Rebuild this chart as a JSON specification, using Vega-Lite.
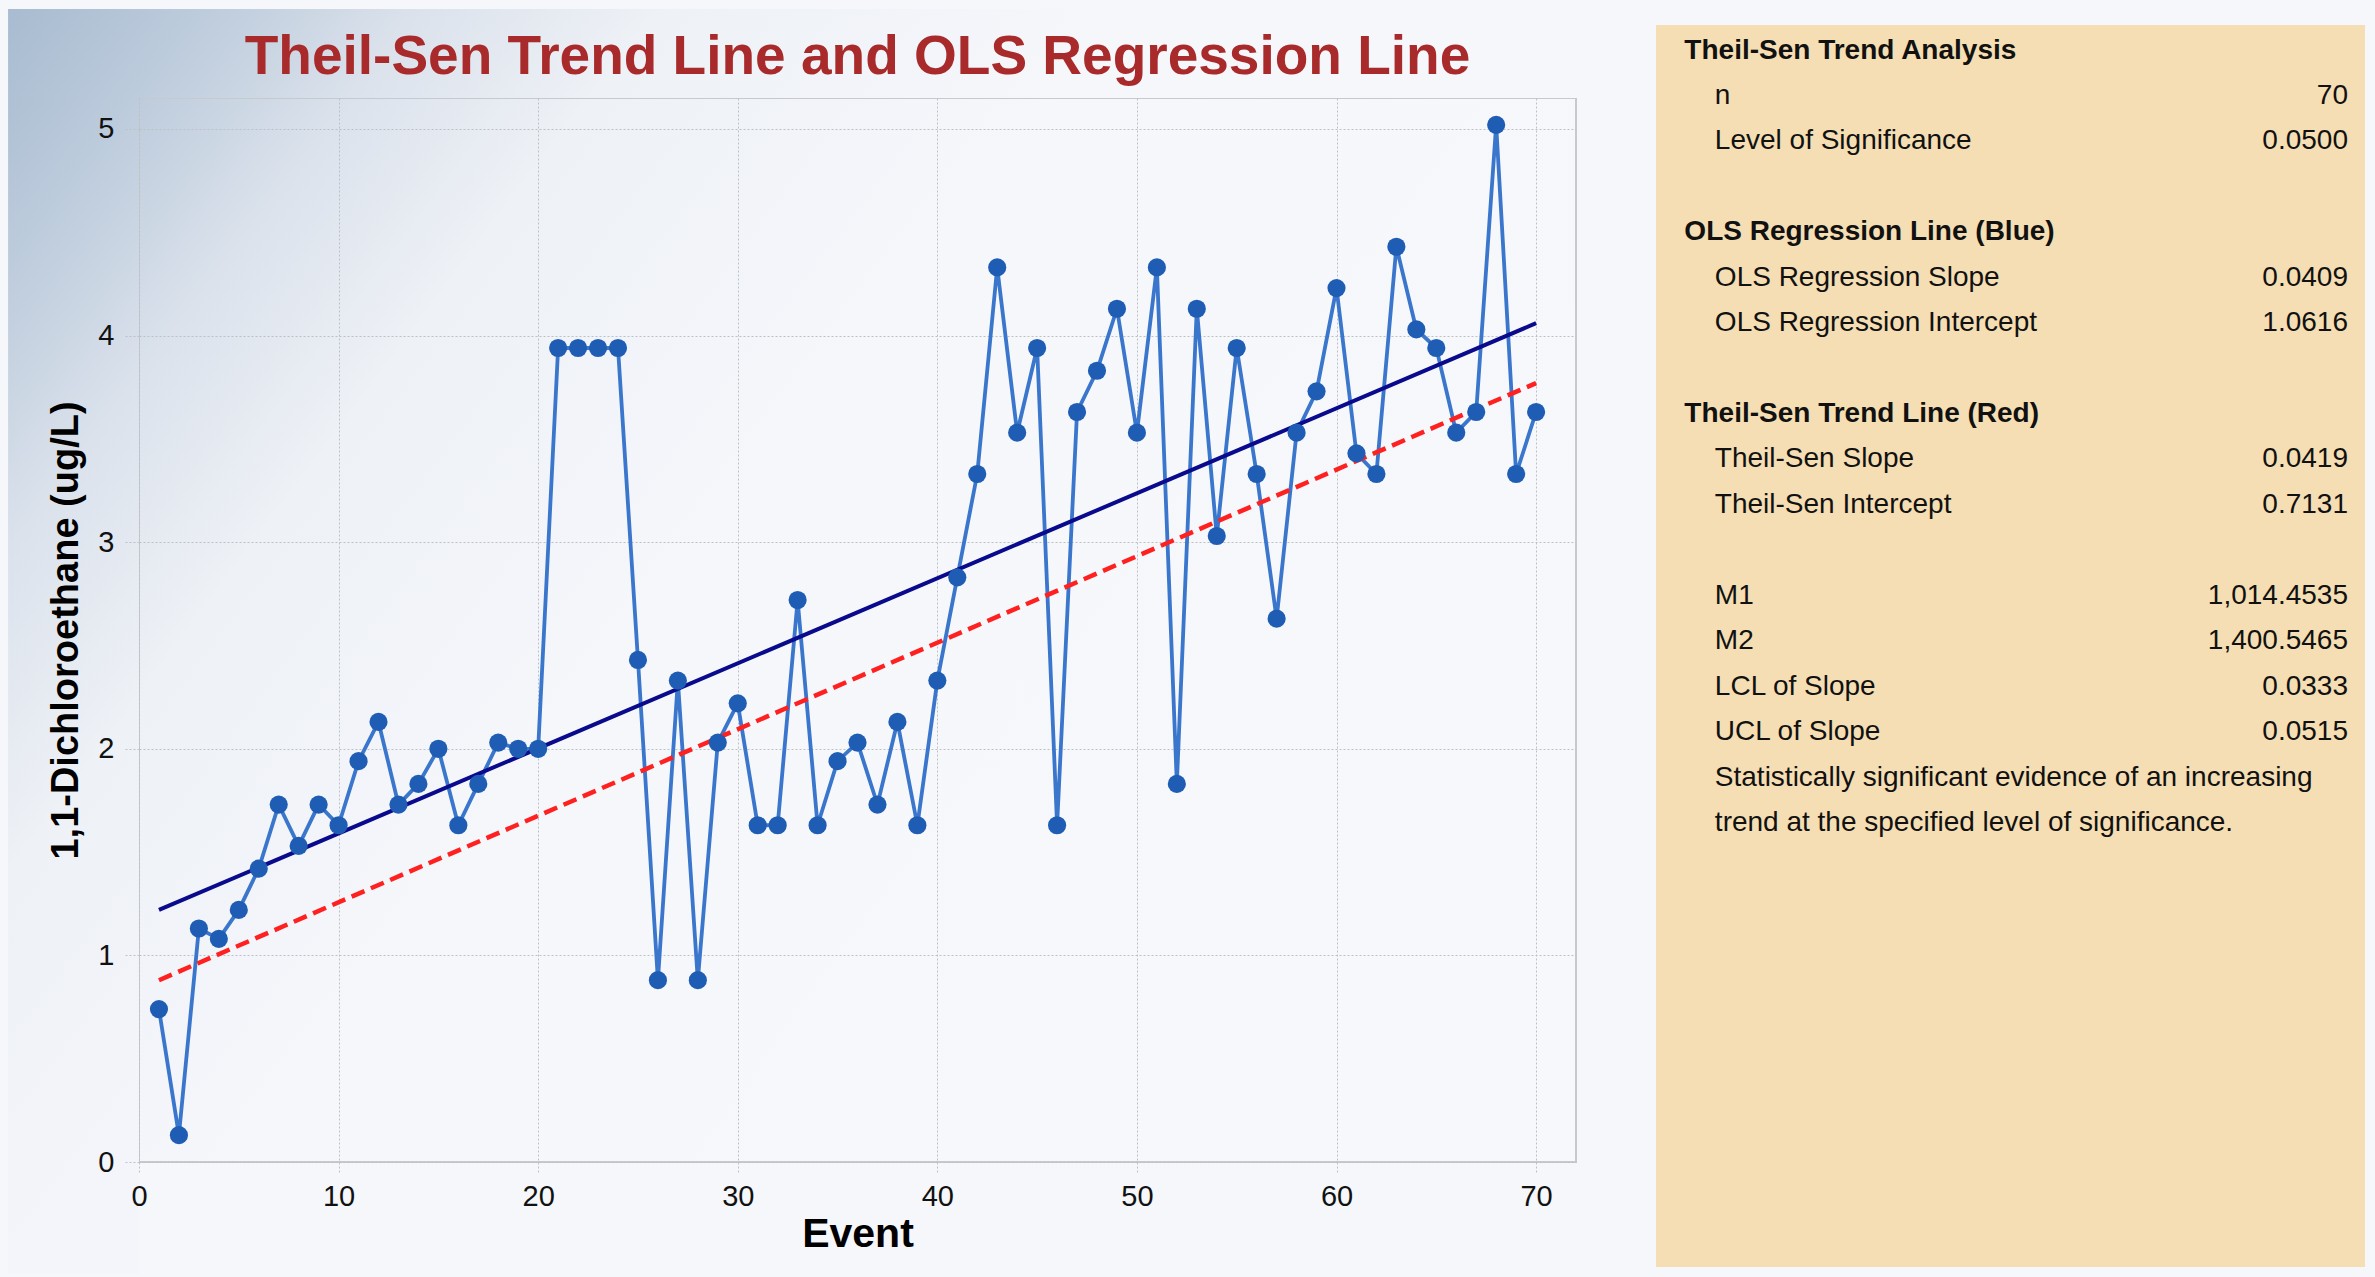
{
  "$schema": "https://vega.github.io/schema/vega-lite/v6.json",
  "background": "#F5F7FB",
  "padding": {"left": 7, "top": 7, "right": 13, "bottom": 5},
  "autosize": {"type": "pad"},
  "spacing": 3,
  "config": {"font": "Liberation Sans", "view": {"stroke": null}},
  "datasets": {
    "obs": [
      {"event": 1, "value": 0.74}, {"event": 2, "value": 0.13}, {"event": 3, "value": 1.13}, {"event": 4, "value": 1.08}, {"event": 5, "value": 1.22},
      {"event": 6, "value": 1.42}, {"event": 7, "value": 1.73}, {"event": 8, "value": 1.53}, {"event": 9, "value": 1.73}, {"event": 10, "value": 1.63},
      {"event": 11, "value": 1.94}, {"event": 12, "value": 2.13}, {"event": 13, "value": 1.73}, {"event": 14, "value": 1.83}, {"event": 15, "value": 2.0},
      {"event": 16, "value": 1.63}, {"event": 17, "value": 1.83}, {"event": 18, "value": 2.03}, {"event": 19, "value": 2.0}, {"event": 20, "value": 2.0},
      {"event": 21, "value": 3.94}, {"event": 22, "value": 3.94}, {"event": 23, "value": 3.94}, {"event": 24, "value": 3.94}, {"event": 25, "value": 2.43},
      {"event": 26, "value": 0.88}, {"event": 27, "value": 2.33}, {"event": 28, "value": 0.88}, {"event": 29, "value": 2.03}, {"event": 30, "value": 2.22},
      {"event": 31, "value": 1.63}, {"event": 32, "value": 1.63}, {"event": 33, "value": 2.72}, {"event": 34, "value": 1.63}, {"event": 35, "value": 1.94},
      {"event": 36, "value": 2.03}, {"event": 37, "value": 1.73}, {"event": 38, "value": 2.13}, {"event": 39, "value": 1.63}, {"event": 40, "value": 2.33},
      {"event": 41, "value": 2.83}, {"event": 42, "value": 3.33}, {"event": 43, "value": 4.33}, {"event": 44, "value": 3.53}, {"event": 45, "value": 3.94},
      {"event": 46, "value": 1.63}, {"event": 47, "value": 3.63}, {"event": 48, "value": 3.83}, {"event": 49, "value": 4.13}, {"event": 50, "value": 3.53},
      {"event": 51, "value": 4.33}, {"event": 52, "value": 1.83}, {"event": 53, "value": 4.13}, {"event": 54, "value": 3.03}, {"event": 55, "value": 3.94},
      {"event": 56, "value": 3.33}, {"event": 57, "value": 2.63}, {"event": 58, "value": 3.53}, {"event": 59, "value": 3.73}, {"event": 60, "value": 4.23},
      {"event": 61, "value": 3.43}, {"event": 62, "value": 3.33}, {"event": 63, "value": 4.43}, {"event": 64, "value": 4.03}, {"event": 65, "value": 3.94},
      {"event": 66, "value": 3.53}, {"event": 67, "value": 3.63}, {"event": 68, "value": 5.02}, {"event": 69, "value": 3.33}, {"event": 70, "value": 3.63}
    ],
    "trend": [
      {"line": "OLS", "event": 1, "value": 1.22}, {"line": "OLS", "event": 70, "value": 4.06},
      {"line": "Theil-Sen", "event": 1, "value": 0.88}, {"line": "Theil-Sen", "event": 70, "value": 3.77}
    ],
    "stats": [
      {"row": 1, "kind": "heading", "label": "Theil-Sen Trend Analysis", "value": ""},
      {"row": 2, "kind": "item", "label": "n", "value": "70"},
      {"row": 3, "kind": "item", "label": "Level of Significance", "value": "0.0500"},
      {"row": 5, "kind": "heading", "label": "OLS Regression Line (Blue)", "value": ""},
      {"row": 6, "kind": "item", "label": "OLS Regression Slope", "value": "0.0409"},
      {"row": 7, "kind": "item", "label": "OLS Regression Intercept", "value": "1.0616"},
      {"row": 9, "kind": "heading", "label": "Theil-Sen Trend Line (Red)", "value": ""},
      {"row": 10, "kind": "item", "label": "Theil-Sen Slope", "value": "0.0419"},
      {"row": 11, "kind": "item", "label": "Theil-Sen Intercept", "value": "0.7131"},
      {"row": 13, "kind": "item", "label": "M1", "value": "1,014.4535"},
      {"row": 14, "kind": "item", "label": "M2", "value": "1,400.5465"},
      {"row": 15, "kind": "item", "label": "LCL of Slope", "value": "0.0333"},
      {"row": 16, "kind": "item", "label": "UCL of Slope", "value": "0.0515"},
      {"row": 17, "kind": "note", "label": "Statistically significant evidence of an increasing", "value": ""},
      {"row": 18, "kind": "note", "label": "trend at the specified level of significance.", "value": ""}
    ]
  },
  "hconcat": [
    {
      "width": 1437,
      "height": 1064,
      "title": {
        "text": "Theil-Sen Trend Line and OLS Regression Line",
        "font": "Liberation Sans",
        "fontSize": 55,
        "fontWeight": "bold",
        "color": "#A82A2A",
        "anchor": "middle",
        "offset": -77,
        "zindex": 1
      },
      "view": {
        "stroke": "#C6C9CD",
        "strokeWidth": 2,
        "fill": {
          "gradient": "linear",
          "x1": 0, "y1": 0, "x2": 1, "y2": 0.556,
          "stops": [
            {"offset": 0, "color": "#BDCBDC"},
            {"offset": 0.024, "color": "#C3D0DF"},
            {"offset": 0.112, "color": "#DBE2EC"},
            {"offset": 0.24, "color": "#EEF1F6"},
            {"offset": 0.486, "color": "#F5F7FB"},
            {"offset": 1, "color": "#F6F8FC"}
          ]
        }
      },
      "resolve": {"axis": {"x": "independent", "y": "independent"}},
      "layer": [
        {
          "data": {"values": [{}]},
          "mark": {
            "type": "rect",
            "fill": {
              "gradient": "linear",
              "x1": 0, "y1": 0, "x2": 1, "y2": 0.0406,
              "stops": [
                {"offset": 0, "color": "#A8BBD0"},
                {"offset": 0.114, "color": "#BCCBDC"},
                {"offset": 0.148, "color": "#C3D0DF"},
                {"offset": 0.248, "color": "#DBE2EC"},
                {"offset": 0.396, "color": "#EEF1F6"},
                {"offset": 0.677, "color": "#F5F7FB"},
                {"offset": 1, "color": "#F5F7FB"}
              ]
            }
          },
          "encoding": {
            "x": {"datum": -6.56, "type": "quantitative", "scale": {"domain": [0, 72], "nice": false, "zero": false}, "axis": null},
            "x2": {"datum": 75.76},
            "y": {"datum": 5.15, "type": "quantitative", "scale": {"domain": [0, 5.15], "nice": false, "zero": false}, "axis": null},
            "y2": {"datum": 5.581}
          }
        },
        {
          "data": {"values": [{}]},
          "mark": {
            "type": "rect",
            "fill": {
              "gradient": "linear",
              "x1": 0, "y1": 0, "x2": 0.1485, "y2": 1,
              "stops": [
                {"offset": 0, "color": "#AFC0D4"},
                {"offset": 0.134, "color": "#BCCBDC"},
                {"offset": 0.195, "color": "#C3D0DF"},
                {"offset": 0.378, "color": "#DBE2EC"},
                {"offset": 0.647, "color": "#EEF1F6"},
                {"offset": 1, "color": "#F3F5FA"}
              ]
            }
          },
          "encoding": {
            "x": {"datum": -6.56, "type": "quantitative", "axis": null},
            "x2": {"datum": 0},
            "y": {"datum": -0.542, "type": "quantitative", "axis": null},
            "y2": {"datum": 5.15}
          }
        },
        {
          "data": {"name": "obs"},
          "mark": {"type": "line", "color": "#3A76CC", "strokeWidth": 3.8},
          "encoding": {
            "x": {
              "field": "event", "type": "quantitative",
              "axis": {"orient": "bottom", "values": [0, 10, 20, 30, 40, 50, 60, 70], "grid": true, "gridColor": "#BDC1C6", "gridDash": [2, 2], "gridWidth": 1, "labels": false, "ticks": false, "domain": false, "title": null, "zindex": 0}
            },
            "y": {
              "field": "value", "type": "quantitative",
              "axis": {"orient": "left", "values": [0, 1, 2, 3, 4, 5], "grid": true, "gridColor": "#BDC1C6", "gridDash": [2, 2], "gridWidth": 1, "labels": false, "ticks": false, "domain": false, "title": null, "zindex": 0}
            }
          }
        },
        {
          "data": {"name": "trend"},
          "transform": [{"filter": "datum.line === 'OLS'"}],
          "mark": {"type": "line", "color": "#0A0A8C", "strokeWidth": 4},
          "encoding": {
            "x": {"field": "event", "type": "quantitative", "axis": null},
            "y": {"field": "value", "type": "quantitative", "axis": null}
          }
        },
        {
          "data": {"name": "trend"},
          "transform": [{"filter": "datum.line === 'Theil-Sen'"}],
          "mark": {"type": "line", "color": "#FF2020", "strokeWidth": 4.5, "strokeDash": [14, 7]},
          "encoding": {
            "x": {"field": "event", "type": "quantitative", "axis": null},
            "y": {"field": "value", "type": "quantitative", "axis": null}
          }
        },
        {
          "data": {"name": "obs"},
          "mark": {"type": "point", "shape": "circle", "filled": true, "size": 330, "color": "#1F5DB4", "opacity": 1},
          "encoding": {
            "x": {
              "field": "event", "type": "quantitative",
              "axis": {
                "orient": "bottom", "zindex": 1,
                "values": [0, 10, 20, 30, 40, 50, 60, 70],
                "title": "Event", "titleFontSize": 41, "titleFontWeight": "bold", "titleColor": "#000",
                "titleX": 718.5, "titleY": 84, "titleBaseline": "alphabetic", "titleAlign": "center",
                "labelFontSize": 29, "labelColor": "#111", "labelPadding": 8, "labelFlush": false,
                "tickSize": 12, "tickColor": "#BDC1C6", "tickDash": [2, 2], "tickWidth": 1,
                "grid": false, "domain": false
              }
            },
            "y": {
              "field": "value", "type": "quantitative",
              "axis": {
                "orient": "left", "zindex": 1,
                "values": [0, 1, 2, 3, 4, 5],
                "title": "1,1-Dichloroethane (ug/L)", "titleFontSize": 38, "titleFontWeight": "bold", "titleColor": "#000",
                "titleX": -62, "titleY": 532, "titleAngle": 270, "titleBaseline": "alphabetic", "titleAlign": "center",
                "labelFontSize": 29, "labelColor": "#111", "labelPadding": 9,
                "tickSize": 16, "tickColor": "#BDC1C6", "tickDash": [2, 2], "tickWidth": 1,
                "grid": false, "domain": false
              }
            }
          }
        }
      ]
    },
    {
      "width": 709,
      "height": 1169,
      "data": {"name": "stats"},
      "layer": [
        {
          "data": {"values": [{}]},
          "mark": {"type": "rect", "fill": "#F5DEB3"},
          "encoding": {
            "x": {"datum": 0, "type": "quantitative", "scale": {"domain": [0, 100], "nice": false, "zero": false}, "axis": null},
            "x2": {"datum": 100},
            "y": {"datum": 0.4385, "type": "quantitative", "scale": {"domain": [2.045, 27.77], "reverse": true, "nice": false, "zero": false}, "axis": null},
            "y2": {"datum": 27.77}
          }
        },
        {
          "transform": [{"filter": "datum.kind === 'heading'"}],
          "mark": {"type": "text", "align": "left", "baseline": "middle", "fontSize": 28, "fontWeight": "bold", "color": "#111", "font": "Liberation Sans"},
          "encoding": {
            "x": {"datum": 4, "type": "quantitative"},
            "y": {"field": "row", "type": "quantitative"},
            "text": {"field": "label"}
          }
        },
        {
          "transform": [{"filter": "datum.kind !== 'heading'"}],
          "mark": {"type": "text", "align": "left", "baseline": "middle", "fontSize": 28, "color": "#111", "font": "Liberation Sans"},
          "encoding": {
            "x": {"datum": 8.3, "type": "quantitative"},
            "y": {"field": "row", "type": "quantitative"},
            "text": {"field": "label"}
          }
        },
        {
          "transform": [{"filter": "datum.kind === 'item'"}],
          "mark": {"type": "text", "align": "right", "baseline": "middle", "fontSize": 28, "color": "#111", "font": "Liberation Sans"},
          "encoding": {
            "x": {"datum": 97.6, "type": "quantitative"},
            "y": {"field": "row", "type": "quantitative"},
            "text": {"field": "value"}
          }
        }
      ]
    }
  ]
}
